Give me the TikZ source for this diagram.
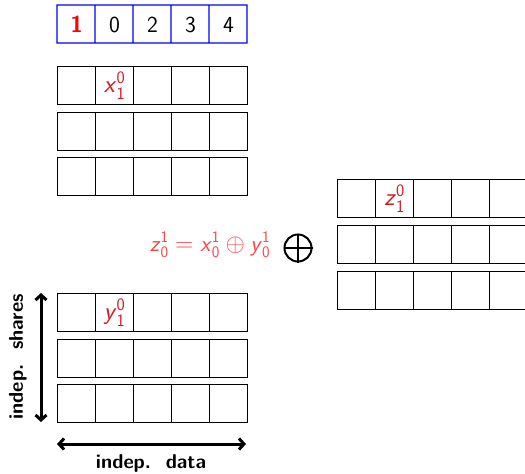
\documentclass[tikz,border=0pt]{standalone}
\usepackage{amsmath}
\usepackage{fontspec}
\usetikzlibrary{arrows.meta}
\definecolor{lblred}{RGB}{210,30,35}
\definecolor{eqred}{RGB}{255,70,70}
\definecolor{idxblue}{RGB}{0,0,255}
\newcommand{\sv}[3]{\textsf{\textit{#1}}^{\textsf{#2}}_{\textsf{#3}}}
\begin{document}
\begin{tikzpicture}[x=1pt,y=-1pt,
  cell/.style={draw=black,line width=1.2pt,minimum width=38pt,minimum height=38pt,inner sep=0pt,anchor=north west,font=\fontsize{23}{26}\selectfont\sffamily},
  idx/.style={cell,draw=none},
  lbl/.style={text=lblred,font=\fontsize{25}{28}\selectfont},
  bigarrow/.style={line width=3pt,{Straight Barb[length=5pt,width=11pt]}-{Straight Barb[length=5pt,width=11pt]}},
  axislabel/.style={font=\fontsize{20}{24}\selectfont\sffamily\bfseries}]
\useasboundingbox (0,0) rectangle (525,474);
% index row: blue frame drawn as one even-odd fill
\fill[idxblue,even odd rule] (56.3,4.3) rectangle (247.7,43.7)
  \foreach \i in {0,...,4} { (57.7+38*\i,5.7) rectangle +(36.6,36.6) };
\node[idx,text=red,font=\fontsize{23}{26}\selectfont\sffamily\bfseries] (i0) at (57,5) {1};
\foreach \t [count=\i from 1] in {0,2,3,4}
  \node[idx] (i\i) at (57+38*\i,5) {\t};
% top-left block
\foreach \r/\y in {0/66,1/112,2/157}
  \foreach \i in {0,...,4}
    \node[cell] (a\r\i) at (57+38*\i,\y) {};
\node[lbl] (xl) at (a01) {$\sv{x}{0}{1}$};
% bottom-left block
\foreach \r/\y in {0/293,1/339,2/384}
  \foreach \i in {0,...,4}
    \node[cell] (b\r\i) at (57+38*\i,\y) {};
\node[lbl] (yl) at (b01) {$\sv{y}{0}{1}$};
% right block
\begin{scope}
\clip (0,0) rectangle (525,474);
\foreach \r/\y in {0/179,1/225,2/271}
  \foreach \i in {0,...,4}
    \node[cell] (c\r\i) at (337+38*\i,\y) {};
\end{scope}
\node[lbl] (zl) at (c01) {$\sv{z}{0}{1}$};
% equation
\node[text=eqred,font=\fontsize{23}{26}\selectfont] (eq) at (210,245) {$\sv{z}{1}{0}=\sv{x}{1}{0}\oplus\sv{y}{1}{0}$};
\node[draw,circle,line width=2pt,minimum size=27pt,inner sep=0pt] (op) at (298,248) {};
\draw[line width=2pt] (op.north) -- (op.south) (op.west) -- (op.east);
% arrows
\coordinate (vt) at (41,293);
\coordinate (vb) at (41,422);
\coordinate (hl) at (57,444);
\coordinate (hr) at (246,444);
\draw[bigarrow] (vt) -- (vb);
\draw[bigarrow] (hl) -- (hr);
\node[axislabel,rotate=90] (sh) at (18,357) {indep.\ \ shares};
\node[axislabel] (da) at (151,463) {indep.\ \ data};
\end{tikzpicture}
\end{document}
